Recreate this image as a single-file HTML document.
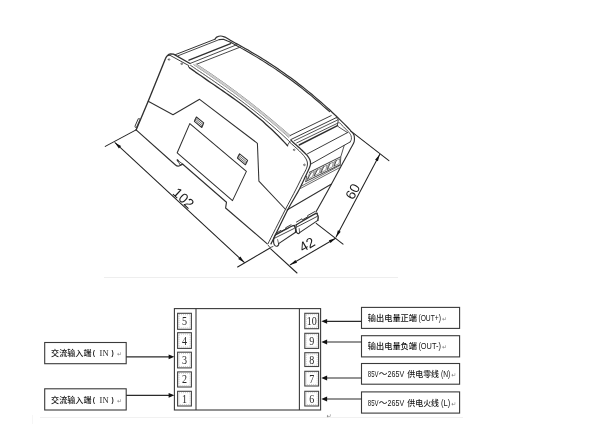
<!DOCTYPE html>
<html lang="zh">
<head>
<meta charset="utf-8">
<title>外形尺寸与接线图</title>
<style>
html,body{margin:0;padding:0;background:#fff;}
body{width:600px;height:432px;overflow:hidden;position:relative;}
svg{position:absolute;left:0;top:0;display:block;will-change:transform;}
.dr path{fill:none;stroke-linecap:round;stroke-linejoin:round;}
.dim{font-family:"Liberation Sans",sans-serif;font-size:13.8px;fill:#1a1a1a;}
.cn{font-family:"Liberation Sans","Noto Sans CJK SC",sans-serif;font-size:8px;font-weight:500;fill:#141414;}
.lat{font-family:"Liberation Sans",sans-serif;font-size:8.6px;fill:#141414;}
.ser{font-family:"Liberation Serif",serif;font-size:8.5px;fill:#1c1c1c;}
.num{font-family:"Liberation Serif",serif;font-size:12px;fill:#2a2a2a;text-anchor:middle;}
.ret{font-family:"DejaVu Sans",sans-serif;font-size:6px;fill:#808080;}
</style>
</head>
<body>
<svg width="600" height="432" viewBox="0 0 600 432">
<rect x="0" y="0" width="600" height="432" fill="#fff"/>
<defs><filter id="soft" x="0" y="0" width="600" height="432" filterUnits="userSpaceOnUse"><feGaussianBlur stdDeviation="0.32"/></filter></defs>
<!-- faint page lines -->
<line x1="32.5" y1="415" x2="32.5" y2="424" stroke="#f6f6f6" stroke-width="1"/>
<line x1="104" y1="277.5" x2="398" y2="277.5" stroke="#eeeeee" stroke-width="1.2"/>
<line x1="40" y1="417.5" x2="463" y2="417.5" stroke="#f1f1f1" stroke-width="1.2"/>
<g class="dr" filter="url(#soft)">
<path d="M136.1,129.9 L148.2,101.3 L165.5,58.6 Q167,54.6 170.6,53.9 L173.5,54.2 L190,63.5" stroke="#303030" stroke-width="1.35"/>
<path d="M136.1,129.9 L175.2,164.7 Q177.6,166.8 179.6,165.8 L182.8,164.2" stroke="#303030" stroke-width="1.14"/>
<path d="M177.5,160.2 L182.6,164.0 L180.2,165.0 L177.5,160.2" stroke="#303030" stroke-width="0.88"/>
<path d="M177.4,160.1 L177.9,160.8" stroke="#303030" stroke-width="1.66"/>
<path d="M182.8,164.2 L226.5,202.2 L225.6,208.0 L267.0,243.6" stroke="#303030" stroke-width="1.14"/>
<path d="M138.9,119.6 L135.9,126.4" stroke="#333" stroke-width="2.7"/>
<path d="M138.9,119.6 L135.9,126.4" stroke="#fff" stroke-width="1.04"/>
<path d="M148.2,101.3 L173.0,114.8 L199.6,99.3 L257.4,143.3 L258.9,181.2 L285.2,209.0" stroke="#303030" stroke-width="1.04"/>
<path d="M189.8,123.6 L246.4,171.4 L232.5,200.6 L177.2,152.8Z" stroke="#303030" stroke-width="1.04"/>
<path d="M196.4,117.0 L203.7,122.8 L201.8,127.5 L194.4,121.3Z" stroke="#303030" stroke-width="1.04"/>
<path d="M195.7,118.5 L203.0,124.5" stroke="#303030" stroke-width="0.73"/>
<path d="M195.0,119.9 L202.4,126.0" stroke="#303030" stroke-width="0.73"/>
<path d="M239.6,153.8 L247.6,160.4 L245.4,164.8 L237.4,158.0Z" stroke="#303030" stroke-width="1.04"/>
<path d="M238.8,155.3 L246.8,162.0" stroke="#303030" stroke-width="0.73"/>
<path d="M238.1,156.7 L246.1,163.4" stroke="#303030" stroke-width="0.73"/>
<path d="M168.2,59.5 a0.8,0.8 0 1,0 1.6,0 a0.8,0.8 0 1,0 -1.6,0" stroke="#444" stroke-width="0.73"/>
<path d="M181.0,63.8 a0.8,0.8 0 1,0 1.6,0 a0.8,0.8 0 1,0 -1.6,0" stroke="#444" stroke-width="0.73"/>
<path d="M293.4,149.8 a0.8,0.8 0 1,0 1.6,0 a0.8,0.8 0 1,0 -1.6,0" stroke="#444" stroke-width="0.73"/>
<path d="M303.7,164.9 a0.8,0.8 0 1,0 1.6,0 a0.8,0.8 0 1,0 -1.6,0" stroke="#444" stroke-width="0.73"/>
<path d="M168.2,55.6 L170.0,55.3 L188.8,65.6 L188.5,67.0 L190.0,68.0" stroke="#303030" stroke-width="0.94"/>
<path d="M189.4,67.7 L192.5,69.9 L195.5,72.1 L198.6,74.2 L201.7,76.3 L204.7,78.4 L207.8,80.6 L210.9,82.7 L214.0,84.8 L217.0,86.9 L220.1,89.0 L223.2,91.1 L226.2,93.2 L229.3,95.4 L232.4,97.6 L235.4,99.8 L238.5,102.0 L241.6,104.3 L244.6,106.6 L247.7,109.0 L250.8,111.4 L253.8,113.9 L256.9,116.4 L260.0,119.0 L263.1,121.6 L266.1,124.4 L269.2,127.2 L272.3,130.0 L275.3,133.0 L278.4,136.0 L281.5,139.2 L284.5,142.4 L287.6,145.7" stroke="#303030" stroke-width="1.3"/>
<path d="M190.6,65.4 L193.6,67.4 L196.6,69.5 L199.6,71.5 L202.6,73.5 L205.7,75.6 L208.7,77.7 L211.7,79.7 L214.7,81.8 L217.7,83.9 L220.7,86.0 L223.7,88.1 L226.7,90.3 L229.8,92.5 L232.8,94.6 L235.8,96.8 L238.8,99.1 L241.8,101.3 L244.8,103.6 L247.8,105.9 L250.8,108.3 L253.9,110.6 L256.9,113.0 L259.9,115.5 L262.9,117.9 L265.9,120.5 L268.9,123.0 L271.9,125.6 L274.9,128.2 L278.0,130.9 L281.0,133.6 L284.0,136.4 L287.0,139.2 L290.0,142.0" stroke="#303030" stroke-width="0.83"/>
<path d="M193.8,64.7 L196.8,66.7 L199.9,68.8 L202.9,70.8 L206.0,72.9 L209.1,75.0 L212.1,77.1 L215.2,79.2 L218.3,81.3 L221.3,83.5 L224.4,85.7 L227.5,87.9 L230.5,90.1 L233.6,92.3 L236.7,94.6 L239.7,96.9 L242.8,99.2 L245.8,101.5 L248.9,103.9 L252.0,106.3 L255.0,108.7 L258.1,111.1 L261.2,113.6 L264.2,116.1 L267.3,118.6 L270.4,121.2 L273.4,123.8 L276.5,126.4 L279.6,129.1 L282.6,131.8 L285.7,134.5 L288.8,137.3" stroke="#555" stroke-width="0.73"/>
<path d="M196.2,64.0 L199.3,66.0 L202.3,68.0 L205.3,70.0 L208.3,72.0 L211.4,74.1 L214.4,76.2 L217.4,78.3 L220.4,80.4 L223.5,82.5 L226.5,84.7 L229.5,86.9 L232.5,89.1 L235.6,91.3 L238.6,93.6 L241.6,95.9 L244.6,98.2 L247.7,100.5 L250.7,102.8 L253.7,105.2 L256.7,107.6 L259.8,110.0 L262.8,112.5 L265.8,114.9 L268.8,117.4 L271.9,119.9 L274.9,122.5 L277.9,125.0 L280.9,127.6 L284.0,130.2 L287.0,132.8 L290.0,135.5" stroke="#555" stroke-width="0.73"/>
<path d="M215.0,39.2 C215.3,38.9 215.7,37.6 216.7,37.1 C217.7,36.6 219.4,36.0 220.8,36.0 C222.2,36.0 224.3,36.9 225.0,37.1 L230.0,40.1 L233.0,41.7 L236.0,43.4 L239.1,45.0 L242.1,46.7 L245.1,48.4 L248.1,50.1 L251.1,51.9 L254.1,53.7 L257.2,55.5 L260.2,57.3 L263.2,59.2 L266.2,61.1 L269.2,63.1 L272.2,65.0 L275.3,67.0 L278.3,69.1 L281.3,71.2 L284.3,73.3 L287.3,75.4 L290.4,77.6 L293.4,79.8 L296.4,82.1 L299.4,84.4 L302.4,86.7 L305.4,89.1 L308.5,91.6 L311.5,94.0 L314.5,96.6 L317.5,99.1 L320.5,101.7 L323.5,104.4 L326.6,107.1 L329.6,109.8 L332.6,112.7 L335.6,115.5 L338.6,118.4 L341.6,121.4 L344.7,124.4 L347.7,127.5 L350.7,130.6" stroke="#303030" stroke-width="1.2"/>
<path d="M219.2,39.6 L223.3,39.2 L227.0,40.8 L230.0,42.0 L233.0,43.6 L236.0,45.3 L239.1,46.9 L242.1,48.6 L245.1,50.3 L248.1,52.0 L251.1,53.8 L254.1,55.6 L257.2,57.4 L260.2,59.2 L263.2,61.1 L266.2,63.0 L269.2,65.0 L272.2,66.9 L275.3,68.9 L278.3,71.0 L281.3,73.1 L284.3,75.2 L287.3,77.3 L290.4,79.5 L293.4,81.7 L296.4,84.0 L299.4,86.3 L302.4,88.6 L305.4,91.0 L308.5,93.5 L311.5,95.9 L314.5,98.5 L317.5,101.0 L320.5,103.6 L323.5,106.3 L326.6,109.0 L329.6,111.7" stroke="#303030" stroke-width="1.09"/>
<path d="M175.5,54.6 L215.0,39.2" stroke="#303030" stroke-width="0.99"/>
<path d="M178.0,55.8 L219.2,39.6" stroke="#303030" stroke-width="0.88"/>
<path d="M189.0,60.2 L230.6,43.7" stroke="#303030" stroke-width="1.35"/>
<path d="M190.5,63.3 L236.6,44.8" stroke="#303030" stroke-width="0.88"/>
<path d="M196.7,64.2 L241.0,46.8" stroke="#303030" stroke-width="0.88"/>
<path d="M289.6,135.8 L331.2,115.6" stroke="#303030" stroke-width="0.94"/>
<path d="M291.2,139.4 L336.4,117.6" stroke="#303030" stroke-width="0.94"/>
<path d="M294.2,140.8 L338.0,119.8" stroke="#303030" stroke-width="0.83"/>
<path d="M296.7,142.9 L338.3,122.9" stroke="#303030" stroke-width="0.83"/>
<path d="M299.2,145.0 L337.5,125.6" stroke="#303030" stroke-width="1.46"/>
<path d="M336.4,117.6 L338.3,120.0 L337.3,125.6 L339.0,127.2 L347.5,132.6" stroke="#303030" stroke-width="0.83"/>
<path d="M307.5,153.8 L347.5,132.6" stroke="#303030" stroke-width="0.94"/>
<path d="M310.6,164.2 L350.1,142.0" stroke="#303030" stroke-width="0.94"/>
<path d="M287.6,145.0 L290.0,141.4" stroke="#303030" stroke-width="0.83"/>
<path d="M290.0,142.5 C291.5,143.9 296.8,148.4 299.2,150.8 C301.6,153.2 303.3,155.0 304.6,156.7 C305.9,158.4 306.5,159.6 307.0,161.0 C307.5,162.4 307.6,163.6 307.4,165.0 C307.2,166.4 306.9,167.5 306.0,169.5 C305.1,171.5 303.8,173.6 302.1,176.8 C300.5,180.1 299.0,183.3 296.1,189.0 C293.2,194.7 289.3,201.9 284.6,211.0 C279.9,220.1 270.8,238.2 268.0,243.7" stroke="#303030" stroke-width="0.94"/>
<path d="M290.8,140.0 C291.1,140.3 290.7,140.0 292.5,141.7 C294.3,143.4 299.3,147.7 301.7,150.0 C304.1,152.3 305.7,153.7 307.1,155.4 C308.5,157.1 309.4,158.5 310.0,160.0 C310.6,161.5 310.6,162.8 310.5,164.2 C310.4,165.6 309.8,166.8 309.2,168.3 C308.6,169.8 308.4,170.0 306.8,173.4 C305.2,176.8 302.7,182.9 299.5,189.0 C296.3,195.1 292.4,200.8 287.6,210.0 C282.9,219.2 273.8,238.2 271.0,243.9" stroke="#303030" stroke-width="1.25"/>
<path d="M350.7,131.2 C351.1,131.5 352.2,132.2 352.8,133.0 C353.4,133.8 354.0,134.4 354.2,135.8 C354.4,137.2 354.8,139.6 354.2,141.7 C353.6,143.8 352.1,145.9 350.8,148.3 C349.6,150.7 348.4,152.9 346.7,156.0 C345.0,159.1 343.3,162.0 340.8,166.7 C338.3,171.4 335.6,176.4 331.5,184.0 C327.4,191.6 318.6,207.3 316.0,212.0" stroke="#303030" stroke-width="1.14"/>
<path d="M339.2,122.5 C340.7,124.0 346.3,129.5 348.3,131.7 C350.3,133.9 350.5,134.3 351.0,135.6 C351.5,136.9 351.5,138.2 351.4,139.3 C351.2,140.4 350.3,141.6 350.1,142.0" stroke="#303030" stroke-width="0.83"/>
<path d="M344.2,145.4 L340.8,156.7 L340.2,165.8" stroke="#303030" stroke-width="0.83"/>
<path d="M309.3,172.4 L340.4,156.9" stroke="#303030" stroke-width="0.94"/>
<path d="M305.8,181.5 L339.6,164.9" stroke="#303030" stroke-width="0.94"/>
<path d="M306.6,176.3 L305.8,181.5" stroke="#303030" stroke-width="0.83"/>
<path d="M301.6,186.0 L339.6,165.7" stroke="#303030" stroke-width="0.68"/>
<path d="M300.6,188.4 L339.4,167.8" stroke="#303030" stroke-width="0.73"/>
<path d="M309.6,173.7 L314.3,171.4 L312.5,176.7 L307.6,179.2Z" stroke="#555" stroke-width="0.62"/>
<path d="M307.6,179.2 L311.0,173.0" stroke="#444" stroke-width="0.94"/>
<path d="M315.9,170.6 L320.6,168.2 L319.1,173.5 L314.2,175.9Z" stroke="#555" stroke-width="0.62"/>
<path d="M314.2,175.9 L317.3,169.9" stroke="#444" stroke-width="0.94"/>
<path d="M322.3,167.4 L327.0,165.1 L325.8,170.2 L320.9,172.6Z" stroke="#555" stroke-width="0.62"/>
<path d="M320.9,172.6 L323.7,166.7" stroke="#444" stroke-width="0.94"/>
<path d="M328.6,164.3 L333.3,162.0 L332.4,166.9 L327.5,169.3Z" stroke="#555" stroke-width="0.62"/>
<path d="M327.5,169.3 L330.0,163.6" stroke="#444" stroke-width="0.94"/>
<path d="M334.9,161.1 L339.6,158.8 L339.1,163.6 L334.2,166.1Z" stroke="#555" stroke-width="0.62"/>
<path d="M334.2,166.1 L336.3,160.4" stroke="#444" stroke-width="0.94"/>
<path d="M287.0,210.0 L331.5,184.0" stroke="#303030" stroke-width="1.04"/>
<path d="M275.4,234.9 C278.2,233.4 289.2,227.3 292.4,225.9 C295.6,224.5 294.1,226.0 294.6,226.6 C295.1,227.2 295.4,228.6 295.6,229.5 C295.8,230.4 295.6,231.8 295.6,232.2" stroke="#303030" stroke-width="1.4"/>
<path d="M295.6,232.2 L278.6,243.6" stroke="#303030" stroke-width="1.14"/>
<path d="M275.4,234.9 C275.1,235.5 274.2,237.0 273.9,238.3 C273.6,239.7 273.5,241.8 273.7,243.0 C273.9,244.2 274.4,245.1 275.0,245.6 C275.6,246.1 276.4,246.3 277.0,246.2 C277.6,246.1 278.3,245.2 278.6,244.8 C278.9,244.4 278.6,243.8 278.6,243.6" stroke="#303030" stroke-width="1.14"/>
<path d="M274.6,238.2 L294.2,228.4" stroke="#303030" stroke-width="0.88"/>
<path d="M278.6,243.6 L277.6,239.6" stroke="#303030" stroke-width="0.73"/>
<path d="M296.2,224.8 C299.3,223.0 311.5,215.6 315.0,213.9 C318.5,212.2 316.7,213.9 317.2,214.4 C317.7,214.9 318.1,216.0 318.2,217.0 C318.3,218.0 317.9,219.8 317.8,220.4" stroke="#303030" stroke-width="1.4"/>
<path d="M317.8,220.4 L299.6,232.6" stroke="#303030" stroke-width="1.14"/>
<path d="M296.2,224.8 C296.1,225.5 295.8,227.8 295.9,229.0 C296.0,230.2 296.2,231.5 296.6,232.3 C297.0,233.1 297.9,233.6 298.4,233.6 C298.9,233.6 299.4,232.8 299.6,232.6" stroke="#303030" stroke-width="1.14"/>
<path d="M296.4,227.2 L317.2,216.4" stroke="#303030" stroke-width="0.88"/>
<path d="M299.6,232.6 L299.2,228.6" stroke="#303030" stroke-width="0.73"/>
<path d="M276.0,233.3 L281.0,230.4 L281.6,231.4 L286.0,228.8 L285.6,227.8 L291.0,224.8" stroke="#303030" stroke-width="0.94"/>
<path d="M296.5,222.0 L302.0,218.8 L302.6,219.8 L308.0,216.6 L307.6,215.6 L315.0,211.5" stroke="#303030" stroke-width="0.94"/>
<path d="M268.0,245.0 L270.0,247.6 L273.0,246.5" stroke="#303030" stroke-width="0.83"/>
<path d="M136.1,129.9 L105.3,146.4" stroke="#222" stroke-width="1.04"/>
<path d="M270.0,248.0 L237.6,267.0" stroke="#222" stroke-width="1.04"/>
<path d="M270.7,248.9 L297.0,273.0" stroke="#222" stroke-width="1.04"/>
<path d="M316.2,223.4 L343.0,244.2" stroke="#222" stroke-width="1.04"/>
<path d="M351.5,131.6 L388.9,160.6" stroke="#222" stroke-width="1.04"/>
<path d="M115.0,142.7 L244.3,262.4" stroke="#222" stroke-width="1.04"/>
<path d="M290.3,264.7 L335.6,238.3" stroke="#222" stroke-width="1.04"/>
<path d="M379.7,154.4 L336.1,237.0" stroke="#222" stroke-width="1.04"/>
</g>
<path d="M196.2,64.0 L199.3,66.0 L202.3,68.0 L205.3,70.0 L208.3,72.0 L211.4,74.1 L214.4,76.2 L217.4,78.3 L220.4,80.4 L223.5,82.5 L226.5,84.7 L229.5,86.9 L232.5,89.1 L235.6,91.3 L238.6,93.6 L241.6,95.9 L244.6,98.2 L247.7,100.5 L250.7,102.8 L253.7,105.2 L256.7,107.6 L259.8,110.0 L262.8,112.5 L265.8,114.9 L268.8,117.4 L271.9,119.9 L274.9,122.5 L277.9,125.0 L280.9,127.6 L284.0,130.2 L287.0,132.8 L290.0,135.5 L288.8,137.3 L285.7,134.5 L282.6,131.8 L279.6,129.1 L276.5,126.4 L273.4,123.8 L270.4,121.2 L267.3,118.6 L264.2,116.1 L261.2,113.6 L258.1,111.1 L255.0,108.7 L252.0,106.3 L248.9,103.9 L245.8,101.5 L242.8,99.2 L239.7,96.9 L236.7,94.6 L233.6,92.3 L230.5,90.1 L227.5,87.9 L224.4,85.7 L221.3,83.5 L218.3,81.3 L215.2,79.2 L212.1,77.1 L209.1,75.0 L206.0,72.9 L202.9,70.8 L199.9,68.8 L196.8,66.7 L193.8,64.7Z" fill="#cdcdcd" stroke="none"/><polygon points="115.0,142.7 121.1,146.1 118.9,148.5" fill="#111"/><polygon points="244.3,262.4 238.2,259.0 240.4,256.6" fill="#111"/><polygon points="290.3,264.7 295.4,259.9 297.0,262.7" fill="#111"/><polygon points="335.6,238.3 330.5,243.1 328.9,240.3" fill="#111"/><polygon points="379.7,154.4 377.9,161.2 375.1,159.7" fill="#111"/><polygon points="336.1,237.0 337.9,230.2 340.7,231.7" fill="#111"/><text class="dim" text-anchor="middle" transform="translate(183.6,198) rotate(42.8)" x="0" y="4.9">102</text><text class="dim" text-anchor="middle" transform="translate(307,244.5) rotate(-30.2)" x="0" y="4.9">42</text><text class="dim" text-anchor="middle" transform="translate(352.6,191.4) rotate(-62.2)" x="0" y="4.9">60</text><rect x="174.4" y="308.6" width="146.2" height="101.4" fill="none" stroke="#3a3a3a" stroke-width="1.1" /><line x1="196" y1="308.6" x2="196" y2="410" stroke="#3a3a3a" stroke-width="1.1"/><line x1="299.4" y1="308.6" x2="299.4" y2="410" stroke="#3a3a3a" stroke-width="1.1"/><rect x="177.6" y="313.3" width="13.8" height="16.0" fill="none" stroke="#444" stroke-width="1.1" /><rect x="179.0" y="314.7" width="11.0" height="13.2" fill="none" stroke="#999" stroke-width="0.5" stroke-dasharray="1,1"/><text class="num" transform="translate(184.5,325.3) scale(0.84,1)" x="0" y="0">5</text><rect x="177.6" y="332.7" width="13.8" height="15.7" fill="none" stroke="#444" stroke-width="1.1" /><rect x="179.0" y="334.09999999999997" width="11.0" height="12.9" fill="none" stroke="#999" stroke-width="0.5" stroke-dasharray="1,1"/><text class="num" transform="translate(184.5,344.54999999999995) scale(0.84,1)" x="0" y="0">4</text><rect x="177.6" y="352.2" width="13.8" height="15.7" fill="none" stroke="#444" stroke-width="1.1" /><rect x="179.0" y="353.59999999999997" width="11.0" height="12.9" fill="none" stroke="#999" stroke-width="0.5" stroke-dasharray="1,1"/><text class="num" transform="translate(184.5,364.04999999999995) scale(0.84,1)" x="0" y="0">3</text><rect x="177.6" y="371.9" width="13.8" height="15.1" fill="none" stroke="#444" stroke-width="1.1" /><rect x="179.0" y="373.29999999999995" width="11.0" height="12.3" fill="none" stroke="#999" stroke-width="0.5" stroke-dasharray="1,1"/><text class="num" transform="translate(184.5,383.45) scale(0.84,1)" x="0" y="0">2</text><rect x="177.6" y="391.3" width="13.8" height="14.7" fill="none" stroke="#444" stroke-width="1.1" /><rect x="179.0" y="392.7" width="11.0" height="11.9" fill="none" stroke="#999" stroke-width="0.5" stroke-dasharray="1,1"/><text class="num" transform="translate(184.5,402.65) scale(0.84,1)" x="0" y="0">1</text><rect x="304.8" y="313.3" width="13.8" height="15.4" fill="none" stroke="#444" stroke-width="1.1" /><rect x="306.2" y="314.7" width="11.0" height="12.6" fill="none" stroke="#999" stroke-width="0.5" stroke-dasharray="1,1"/><text class="num" transform="translate(311.7,325.0) scale(0.84,1)" x="0" y="0">10</text><rect x="304.8" y="333.3" width="13.8" height="15.1" fill="none" stroke="#444" stroke-width="1.1" /><rect x="306.2" y="334.7" width="11.0" height="12.3" fill="none" stroke="#999" stroke-width="0.5" stroke-dasharray="1,1"/><text class="num" transform="translate(311.7,344.85) scale(0.84,1)" x="0" y="0">9</text><rect x="304.8" y="352.7" width="13.8" height="13.8" fill="none" stroke="#444" stroke-width="1.1" /><rect x="306.2" y="354.09999999999997" width="11.0" height="11.0" fill="none" stroke="#999" stroke-width="0.5" stroke-dasharray="1,1"/><text class="num" transform="translate(311.7,363.6) scale(0.84,1)" x="0" y="0">8</text><rect x="304.8" y="371.3" width="13.8" height="14.7" fill="none" stroke="#444" stroke-width="1.1" /><rect x="306.2" y="372.7" width="11.0" height="11.9" fill="none" stroke="#999" stroke-width="0.5" stroke-dasharray="1,1"/><text class="num" transform="translate(311.7,382.65) scale(0.84,1)" x="0" y="0">7</text><rect x="304.8" y="391.3" width="13.8" height="14.7" fill="none" stroke="#444" stroke-width="1.1" /><rect x="306.2" y="392.7" width="11.0" height="11.9" fill="none" stroke="#999" stroke-width="0.5" stroke-dasharray="1,1"/><text class="num" transform="translate(311.7,402.65) scale(0.84,1)" x="0" y="0">6</text><rect x="44.7" y="342.5" width="81.5" height="21.2" fill="none" stroke="#3a3a3a" stroke-width="1.1" /><line x1="126.2" y1="356.8" x2="171.4" y2="356.8" stroke="#2a2a2a" stroke-width="1.2"/><polygon points="174.4,356.8 168.6,354.40000000000003 168.6,359.2" fill="#111"/><text class="cn" x="51.1" y="356.2" textLength="40.4" lengthAdjust="spacingAndGlyphs" >交流输入端</text><text class="lat" x="92.8" y="355.2" style="font-weight:bold;font-size:6.6px">(</text><text class="ser" x="99.6" y="356.2" textLength="9" lengthAdjust="spacingAndGlyphs" >IN</text><text class="lat" x="111.4" y="355.2" style="font-weight:bold;font-size:6.6px">)</text><text class="ret" x="116.9" y="356.2" >↵</text><rect x="44.7" y="388.8" width="81.5" height="21.2" fill="none" stroke="#3a3a3a" stroke-width="1.1" /><line x1="126.2" y1="395.3" x2="171.4" y2="395.3" stroke="#2a2a2a" stroke-width="1.2"/><polygon points="174.4,395.3 168.6,392.90000000000003 168.6,397.7" fill="#111"/><text class="cn" x="51.1" y="402.5" textLength="40.4" lengthAdjust="spacingAndGlyphs" >交流输入端</text><text class="lat" x="92.8" y="401.5" style="font-weight:bold;font-size:6.6px">(</text><text class="ser" x="99.6" y="402.5" textLength="9" lengthAdjust="spacingAndGlyphs" >IN</text><text class="lat" x="111.4" y="401.5" style="font-weight:bold;font-size:6.6px">)</text><text class="ret" x="116.9" y="402.5" >↵</text><rect x="361.5" y="307.4" width="98.1" height="21.0" fill="none" stroke="#3a3a3a" stroke-width="1.1" /><line x1="361.5" y1="321.3" x2="324.3" y2="321.3" stroke="#2a2a2a" stroke-width="1.2"/><polygon points="321.3,321.3 327.1,318.90000000000003 327.1,323.7" fill="#111"/><text class="cn" x="367.8" y="321.0" textLength="49.2" lengthAdjust="spacingAndGlyphs" >输出电量正端</text><text class="lat" x="418.4" y="321.0" textLength="22.6" lengthAdjust="spacingAndGlyphs" >(OUT+)</text><text class="ret" x="442" y="321.0" >↵</text><rect x="361.5" y="335.7" width="98.1" height="21.2" fill="none" stroke="#3a3a3a" stroke-width="1.1" /><line x1="361.5" y1="342" x2="324.3" y2="342" stroke="#2a2a2a" stroke-width="1.2"/><polygon points="321.3,342 327.1,339.6 327.1,344.4" fill="#111"/><text class="cn" x="367.8" y="349.4" textLength="49.2" lengthAdjust="spacingAndGlyphs" >输出电量负端</text><text class="lat" x="418.4" y="349.4" textLength="22.6" lengthAdjust="spacingAndGlyphs" >(OUT-)</text><text class="ret" x="442" y="349.4" >↵</text><rect x="361.5" y="363.5" width="98.1" height="20.7" fill="none" stroke="#3a3a3a" stroke-width="1.1" /><line x1="361.5" y1="378" x2="324.3" y2="378" stroke="#2a2a2a" stroke-width="1.2"/><polygon points="321.3,378 327.1,375.6 327.1,380.4" fill="#111"/><text class="lat" x="367.8" y="377.0" textLength="10.7" lengthAdjust="spacingAndGlyphs" >85V</text><text class="cn" x="378.7" y="377.0" textLength="8.6" lengthAdjust="spacingAndGlyphs" >～</text><text class="lat" x="387.6" y="377.0" textLength="16.6" lengthAdjust="spacingAndGlyphs" >265V</text><text class="cn" x="407.3" y="377.0" textLength="31.7" lengthAdjust="spacingAndGlyphs" >供电零线</text><text class="lat" x="441" y="377.0" textLength="9.3" lengthAdjust="spacingAndGlyphs" >(N)</text><text class="ret" x="451.3" y="377.0" >↵</text><rect x="361.5" y="391.9" width="98.1" height="21.2" fill="none" stroke="#3a3a3a" stroke-width="1.1" /><line x1="361.5" y1="399" x2="324.3" y2="399" stroke="#2a2a2a" stroke-width="1.2"/><polygon points="321.3,399 327.1,396.6 327.1,401.4" fill="#111"/><text class="lat" x="367.8" y="405.6" textLength="10.7" lengthAdjust="spacingAndGlyphs" >85V</text><text class="cn" x="378.7" y="405.6" textLength="8.6" lengthAdjust="spacingAndGlyphs" >～</text><text class="lat" x="387.6" y="405.6" textLength="16.6" lengthAdjust="spacingAndGlyphs" >265V</text><text class="cn" x="407.3" y="405.6" textLength="31.7" lengthAdjust="spacingAndGlyphs" >供电火线</text><text class="lat" x="441" y="405.6" textLength="9.3" lengthAdjust="spacingAndGlyphs" >(L)</text><text class="ret" x="451.3" y="405.6" >↵</text><text class="ret" x="326.6" y="417.6" >↵</text>
</svg>
</body>
</html>
